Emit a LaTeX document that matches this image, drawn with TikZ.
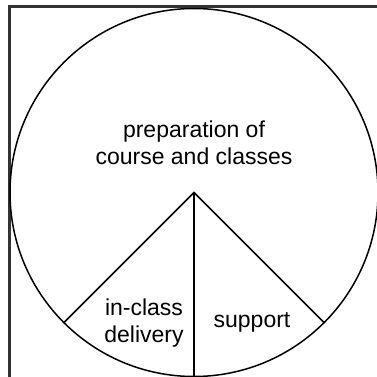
\documentclass[tikz,border=0pt]{standalone}
\usepackage{fontspec}
\setmainfont{Liberation Sans}
\usetikzlibrary{calc}
\definecolor{framegray}{HTML}{333333}
\begin{document}
\begin{tikzpicture}[x=1pt,y=-1pt,
  framestyle/.style={draw=framegray,line width=2.8pt},
  pieline/.style={draw=black,line width=1.5pt},
  label/.style={inner sep=0pt,align=center,font=\fontsize{23}{27}\selectfont}]
\useasboundingbox (0,0) rectangle (377,377);
\clip (0,0) rectangle (377,377);
\coordinate (fb) at (9.5,390);
\coordinate (fc) at (9.5,6.5);
\coordinate (fr) at (390,6.5);
\draw[framestyle] (fb) -- (fc) -- (fr);
\coordinate (c) at (194,192.5);
\draw[pieline] (c) circle (184pt);
\coordinate (ll) at ($(c)+(225:184pt)$);
\coordinate (lr) at ($(c)+(-45:184pt)$);
\coordinate (lb) at (194,385);
\draw[pieline] (ll) -- (c) -- (lr);
\draw[pieline] (c) -- (lb);
\node[label] (prep) at (194,143) {preparation of\\course and classes};
\node[label] (deliv) at (144,323.5) {in-class\\delivery};
\node[label] (supp) at (252,322) {support};
\end{tikzpicture}
\end{document}
